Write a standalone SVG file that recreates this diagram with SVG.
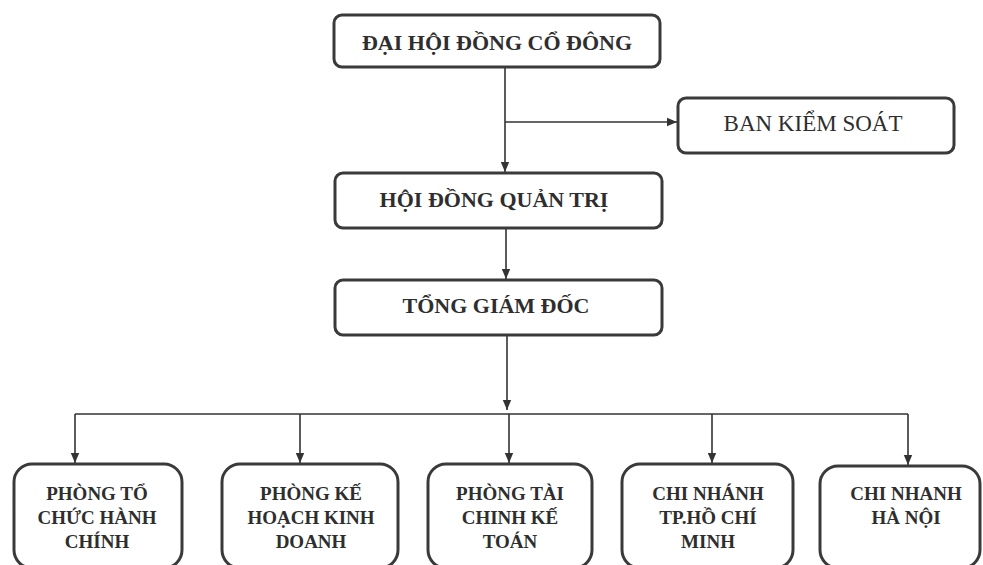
<svg xmlns="http://www.w3.org/2000/svg" width="983" height="565" viewBox="0 0 983 565">
<defs>
<marker id="arr" markerUnits="userSpaceOnUse" markerWidth="10" markerHeight="10" viewBox="0 0 10 10" refX="10" refY="5" orient="auto">
<path d="M0,0.8 L10,5 L0,9.2 Z" fill="#333"/>
</marker>
<style>
.box{fill:#fff;stroke:#3a3a3a;stroke-width:3}
.t{font-family:"Liberation Serif","Times New Roman",serif;font-weight:bold;font-size:22px;fill:#2e2e2e;text-anchor:middle}
.tn{font-weight:normal;font-size:23px}
.s{font-size:19px}
.c{fill:none;stroke:#333;stroke-width:1.6}
</style>
</defs>
<rect width="983" height="565" fill="#fff"/>
<g id="connectors">
<line class="c" x1="505" y1="67" x2="505" y2="172" marker-end="url(#arr)"/>
<line class="c" x1="505" y1="122" x2="677" y2="122" marker-end="url(#arr)"/>
<line class="c" x1="506" y1="228" x2="506" y2="279" marker-end="url(#arr)"/>
<line class="c" x1="507" y1="335" x2="507" y2="410" marker-end="url(#arr)"/>
<line class="c" x1="75" y1="414" x2="908" y2="414"/>
<line class="c" x1="75" y1="414" x2="75" y2="463" marker-end="url(#arr)"/>
<line class="c" x1="300" y1="414" x2="300" y2="463" marker-end="url(#arr)"/>
<line class="c" x1="509" y1="414" x2="509" y2="463" marker-end="url(#arr)"/>
<line class="c" x1="712" y1="414" x2="712" y2="463" marker-end="url(#arr)"/>
<line class="c" x1="908" y1="414" x2="908" y2="465" marker-end="url(#arr)"/>
</g>
<g id="dhdcd">
<rect class="box" x="334" y="15" width="326" height="52" rx="8"/>
<text class="t" x="497" y="50">ĐẠI HỘI ĐỒNG CỔ ĐÔNG</text>
</g>
<g id="bks">
<rect class="box" x="678" y="98" width="276" height="55" rx="8"/>
<text class="t tn" x="813" y="131">BAN KIỂM SOÁT</text>
</g>
<g id="hdqt">
<rect class="box" x="335" y="173" width="327" height="55" rx="8"/>
<text class="t" x="494" y="207">HỘI ĐỒNG QUẢN TRỊ</text>
</g>
<g id="tgd">
<rect class="box" x="335" y="280" width="327" height="55" rx="8"/>
<text class="t" x="496" y="313">TỔNG GIÁM ĐỐC</text>
</g>
<g id="ptchc">
<rect class="box" x="14" y="464" width="168" height="104" rx="18"/>
<text class="t s" x="97" y="500">PHÒNG TỔ</text>
<text class="t s" x="97" y="524">CHỨC HÀNH</text>
<text class="t s" x="97" y="548">CHÍNH</text>
</g>
<g id="pkhkd">
<rect class="box" x="222" y="464" width="176" height="104" rx="18"/>
<text class="t s" x="311" y="500">PHÒNG KẾ</text>
<text class="t s" x="311" y="524">HOẠCH KINH</text>
<text class="t s" x="311" y="548">DOANH</text>
</g>
<g id="ptckt">
<rect class="box" x="428" y="464" width="164" height="104" rx="18"/>
<text class="t s" x="510" y="500">PHÒNG TÀI</text>
<text class="t s" x="510" y="524">CHINH KẾ</text>
<text class="t s" x="510" y="548">TOÁN</text>
</g>
<g id="cnhcm">
<rect class="box" x="622" y="464" width="171" height="104" rx="18"/>
<text class="t s" x="708" y="500">CHI NHÁNH</text>
<text class="t s" x="708" y="524">TP.HỒ CHÍ</text>
<text class="t s" x="708" y="548">MINH</text>
</g>
<g id="cnhn">
<rect class="box" x="820" y="466" width="160" height="102" rx="18"/>
<text class="t s" x="906" y="500">CHI NHANH</text>
<text class="t s" x="906" y="524">HÀ NỘI</text>
</g>
</svg>
